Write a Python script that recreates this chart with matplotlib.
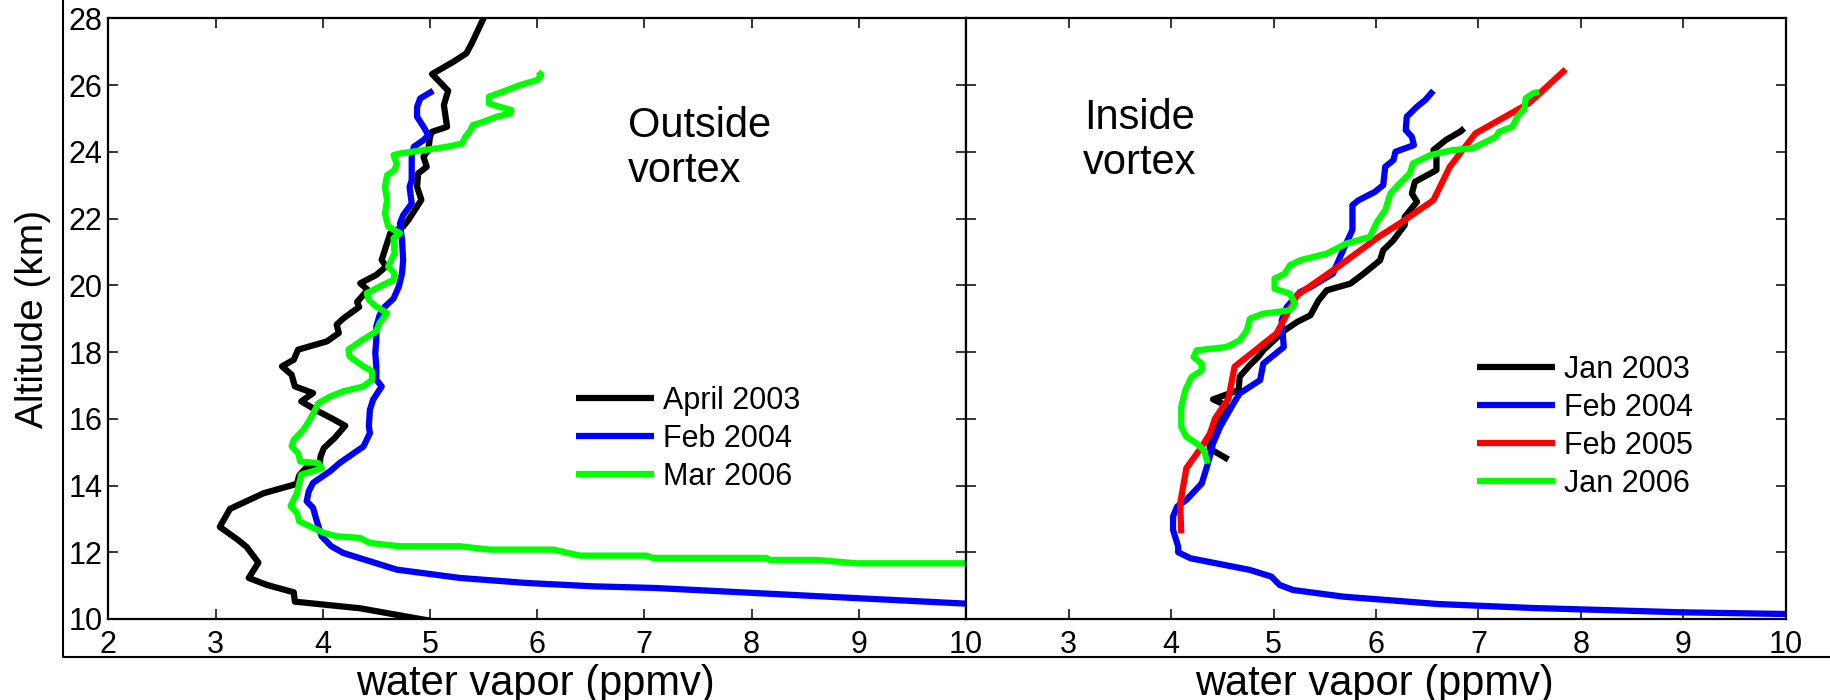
import matplotlib
matplotlib.use('Agg')
import matplotlib.pyplot as plt
from matplotlib.lines import Line2D

plt.rcParams['font.family'] = ['Liberation Sans', 'DejaVu Sans']

# ---------------- data (water vapour ppmv, altitude km) ----------------
# Outside vortex
out_labels = ['April 2003', 'Feb 2004', 'Mar 2006']
out_colors = ['#000000', '#0000FF', '#00FF00']

out_apr2003 = [(5.55, 28.3), (5.50, 28.0), (5.39, 27.25), (5.34, 26.95), (5.22, 26.7), (5.02, 26.33),
               (5.17, 25.83), (5.13, 25.4), (5.16, 24.75), (5.02, 24.6), (5.00, 24.45), (4.985, 24.05),
               (4.94, 23.85), (4.97, 23.55), (4.89, 23.35), (4.88, 22.95), (4.92, 22.56), (4.86, 22.26),
               (4.80, 21.96), (4.75, 21.76), (4.63, 21.56), (4.59, 21.16), (4.55, 20.76), (4.59, 20.56),
               (4.50, 20.31), (4.35, 20.06), (4.42, 19.86), (4.32, 19.5), (4.34, 19.35), (4.19, 19.0),
               (4.13, 18.82), (4.15, 18.57), (4.04, 18.32), (3.77, 18.07), (3.73, 17.77), (3.62, 17.57),
               (3.71, 17.32), (3.74, 16.97), (3.91, 16.77), (3.80, 16.52), (3.96, 16.22), (4.08, 16.02),
               (4.21, 15.79), (4.11, 15.42), (4.01, 15.12), (3.98, 14.87), (3.97, 14.6), (3.85, 14.55),
               (3.78, 14.3), (3.76, 14.05), (3.45, 13.77), (3.135, 13.30), (3.04, 12.76), (3.21, 12.37),
               (3.29, 12.16), (3.40, 11.69), (3.31, 11.23), (3.48, 11.02), (3.73, 10.8), (3.74, 10.52),
               (4.35, 10.32), (4.91, 10.0), (5.0, 9.95)]

out_feb2004 = [(5.03, 25.83), (4.91, 25.6), (4.88, 25.35), (4.88, 25.05), (4.94, 24.75), (4.985, 24.5),
               (4.94, 24.35), (4.85, 24.15), (4.83, 23.85), (4.83, 23.15), (4.81, 22.95), (4.83, 22.45),
               (4.75, 22.1), (4.72, 21.85), (4.74, 21.36), (4.75, 20.76), (4.74, 20.36), (4.71, 19.96),
               (4.66, 19.6), (4.58, 19.36), (4.53, 19.1), (4.50, 18.77), (4.50, 18.37), (4.49, 17.97),
               (4.50, 17.57), (4.50, 17.17), (4.55, 16.97), (4.47, 16.57), (4.44, 16.27), (4.43, 15.77),
               (4.44, 15.57), (4.38, 15.17), (4.16, 14.68), (4.07, 14.43), (3.91, 14.08), (3.87, 13.83),
               (3.85, 13.53), (3.91, 13.33), (3.94, 12.98), (3.99, 12.48), (4.08, 12.18), (4.19, 11.98),
               (4.69, 11.48), (5.28, 11.23), (5.90, 11.08), (6.52, 10.98), (7.10, 10.93), (8.58, 10.69),
               (10.0, 10.46)]

out_mar2006 = [(6.01, 26.40), (6.04, 26.3), (6.00, 26.15), (5.84, 26.0), (5.72, 25.85), (5.55, 25.65),
               (5.55, 25.45), (5.65, 25.35), (5.76, 25.25), (5.75, 25.15), (5.62, 25.05), (5.50, 24.9),
               (5.40, 24.8), (5.37, 24.6), (5.33, 24.45), (5.30, 24.25), (5.16, 24.15), (4.94, 24.05),
               (4.72, 23.95), (4.66, 23.9), (4.69, 23.65), (4.67, 23.45), (4.60, 23.3), (4.58, 22.95),
               (4.60, 22.55), (4.58, 22.15), (4.61, 21.76), (4.72, 21.56), (4.66, 21.41), (4.67, 20.96),
               (4.61, 20.56), (4.67, 20.36), (4.66, 20.16), (4.53, 19.96), (4.41, 19.76), (4.43, 19.56),
               (4.50, 19.36), (4.60, 19.17), (4.53, 18.87), (4.50, 18.62), (4.35, 18.32), (4.24, 18.07),
               (4.25, 17.87), (4.38, 17.57), (4.46, 17.42), (4.46, 17.17), (4.38, 16.97), (4.19, 16.82),
               (4.07, 16.67), (3.96, 16.47), (3.88, 15.97), (3.82, 15.67), (3.73, 15.37), (3.71, 15.17),
               (3.77, 14.97), (3.79, 14.72), (3.96, 14.67), (3.99, 14.52), (3.91, 14.43), (3.80, 14.33),
               (3.76, 13.78), (3.73, 13.58), (3.70, 13.38), (3.76, 13.18), (3.78, 12.93), (3.88, 12.78),
               (4.01, 12.58), (4.13, 12.48), (4.35, 12.43), (4.44, 12.28), (4.72, 12.18), (5.28, 12.18),
               (5.56, 12.08), (6.15, 12.08), (6.40, 11.9), (7.02, 11.9), (7.08, 11.83), (8.14, 11.83),
               (8.17, 11.77), (8.61, 11.77), (8.98, 11.67), (10.0, 11.67)]

# Inside vortex
in_labels = ['Jan 2003', 'Feb 2004', 'Feb 2005', 'Jan 2006']
in_colors = ['#000000', '#0000FF', '#FF0000', '#00FF00']

in_jan2003 = [(6.86, 24.7), (6.82, 24.6), (6.68, 24.35), (6.56, 24.05), (6.59, 23.85), (6.59, 23.45),
              (6.38, 23.1), (6.35, 22.75), (6.40, 22.5), (6.28, 22.05), (6.28, 21.8), (6.17, 21.35),
              (6.07, 21.05), (6.04, 20.75), (5.88, 20.35), (5.75, 20.05), (5.52, 19.85), (5.44, 19.55),
              (5.36, 19.1), (5.23, 18.9), (5.11, 18.65), (4.90, 18.05), (4.85, 17.85), (4.77, 17.61),
              (4.67, 17.26), (4.66, 16.86), (4.41, 16.58), (4.54, 16.4), (4.45, 15.9), (4.37, 15.4),
              (4.38, 15.1), (4.56, 14.78)]

in_feb2004 = [(6.56, 25.83), (6.48, 25.55), (6.40, 25.35), (6.30, 25.05), (6.29, 24.65), (6.35, 24.45),
              (6.37, 24.2), (6.19, 24.0), (6.17, 23.75), (6.09, 23.55), (6.07, 23.0), (5.99, 22.8),
              (5.83, 22.55), (5.77, 22.4), (5.77, 21.66), (5.68, 21.06), (5.65, 20.85), (5.58, 20.35),
              (5.37, 19.96), (5.26, 19.8), (5.13, 19.35), (5.08, 18.95), (5.10, 18.15), (4.90, 17.65),
              (4.87, 17.16), (4.67, 16.76), (4.61, 16.46), (4.48, 15.76), (4.41, 15.26), (4.36, 14.66),
              (4.30, 14.06), (4.15, 13.57), (4.06, 13.37), (4.02, 13.07), (4.02, 12.67), (4.07, 12.17),
              (4.07, 12.0), (4.19, 11.82), (4.77, 11.47), (4.98, 11.27), (5.06, 11.02), (5.19, 10.87),
              (5.68, 10.67), (6.10, 10.57), (6.60, 10.45), (7.53, 10.33), (8.99, 10.2), (10.0, 10.15)]

in_feb2005 = [(7.85, 26.47), (7.49, 25.45), (6.97, 24.55), (6.72, 23.55), (6.56, 22.55), (6.23, 21.85),
              (6.03, 21.46), (5.65, 20.6), (5.23, 19.7), (5.16, 19.3), (5.03, 18.56), (4.62, 17.56),
              (4.56, 16.6), (4.43, 16.01), (4.38, 15.56), (4.30, 15.16), (4.15, 14.52), (4.09, 13.47),
              (4.10, 12.57)]

in_jan2006 = [(7.59, 25.8), (7.53, 25.75), (7.46, 25.6), (7.45, 25.3), (7.38, 25.05), (7.33, 24.75),
              (7.20, 24.6), (7.17, 24.45), (7.04, 24.25), (6.94, 24.1), (6.74, 24.05), (6.53, 23.9),
              (6.36, 23.65), (6.33, 23.35), (6.23, 23.05), (6.14, 22.75), (6.09, 22.25), (6.01, 21.9),
              (5.94, 21.45), (5.71, 21.25), (5.52, 20.95), (5.26, 20.75), (5.16, 20.6), (5.11, 20.35),
              (5.01, 20.2), (5.01, 19.9), (5.16, 19.75), (5.21, 19.45), (5.16, 19.25), (4.90, 19.15),
              (4.77, 19.0), (4.74, 18.65), (4.67, 18.35), (4.54, 18.15), (4.25, 18.05), (4.22, 17.85),
              (4.30, 17.65), (4.30, 17.45), (4.20, 17.25), (4.14, 16.86), (4.10, 16.36), (4.10, 15.76),
              (4.15, 15.46), (4.25, 15.26), (4.32, 15.06), (4.36, 14.66)]

x_ticks = [2, 3, 4, 5, 6, 7, 8, 9, 10]
x_ticklabels_left = ['2', '3', '4', '5', '6', '7', '8', '9', '10']
x_ticklabels_right = ['', '3', '4', '5', '6', '7', '8', '9', '10']
y_ticks = [10, 12, 14, 16, 18, 20, 22, 24, 26, 28]

# ---------------- layout ----------------
W, H = 1831, 700
fig = plt.figure(figsize=(W / 100, H / 100), dpi=100)


def fx(px):
    return px / W


def fy(py):
    return 1 - py / H


top_px, bot_px = 18.3, 619.0
ax1 = fig.add_axes([fx(108.3), fy(bot_px), fx(966) - fx(108.3), fy(top_px) - fy(bot_px)])
ax2 = fig.add_axes([fx(966), fy(bot_px), fx(1786) - fx(966), fy(top_px) - fy(bot_px)])

LW = 4.5
for ax in (ax1, ax2):
    ax.set_xlim(2, 10)
    ax.set_ylim(10, 28)
    ax.set_xticks(x_ticks)
    ax.set_yticks(y_ticks)
    for s in ax.spines.values():
        s.set_linewidth(1.6)
    ax.tick_params(axis='both', direction='in', top=True, right=True, length=7, width=1.1,
                   labelsize=22)
    ax.tick_params(axis='x', pad=8)
    ax.tick_params(axis='y', pad=4)

ax1.set_xticklabels(x_ticklabels_left)
ax2.set_xticklabels(x_ticklabels_right)
ax2.set_yticklabels([])

for data, lab, col in zip([out_apr2003, out_feb2004, out_mar2006], out_labels, out_colors):
    xs = [p[0] for p in data]
    ys = [p[1] for p in data]
    ax1.plot(xs, ys, color=col, lw=LW, label=lab, solid_capstyle='butt', solid_joinstyle='round')

for data, lab, col in zip([in_jan2003, in_feb2004, in_feb2005, in_jan2006], in_labels, in_colors):
    xs = [p[0] for p in data]
    ys = [p[1] for p in data]
    ax2.plot(xs, ys, color=col, lw=LW, label=lab, solid_capstyle='butt', solid_joinstyle='round')

leg_kw = dict(frameon=False, fontsize=22, handlelength=2.56, handletextpad=0.3,
              labelspacing=0.26, borderpad=0, borderaxespad=0, loc='upper left',
              bbox_transform=fig.transFigure)
ax1.legend(bbox_to_anchor=(fx(576), fy(386)), **leg_kw)
ax2.legend(bbox_to_anchor=(fx(1477), fy(355)), **leg_kw)

# panel annotations
ax1.text(6.85, 24.45, 'Outside', fontsize=30, ha='left', va='baseline')
ax1.text(6.85, 23.10, 'vortex', fontsize=30, ha='left', va='baseline')
ax2.text(3.15, 24.67, 'Inside', fontsize=30, ha='left', va='baseline')
ax2.text(3.14, 23.33, 'vortex', fontsize=30, ha='left', va='baseline')

# axis labels
fig.text(fx(33), fy(319), 'Altitude (km)', rotation=90, fontsize=28, ha='center', va='center')
fig.text(fx(535), fy(695), 'water vapor (ppmv)', fontsize=30, ha='center', va='baseline')
fig.text(fx(1374), fy(695), 'water vapor (ppmv)', fontsize=30, ha='center', va='baseline')

# outer frame (left and bottom edges of enclosing box)
fig.add_artist(Line2D([fx(62.7), fx(62.7), 1.0], [1.0, fy(656.7), fy(656.7)],
                      color='black', lw=1.5, transform=fig.transFigure))

fig.savefig('out.png', dpi=100)
